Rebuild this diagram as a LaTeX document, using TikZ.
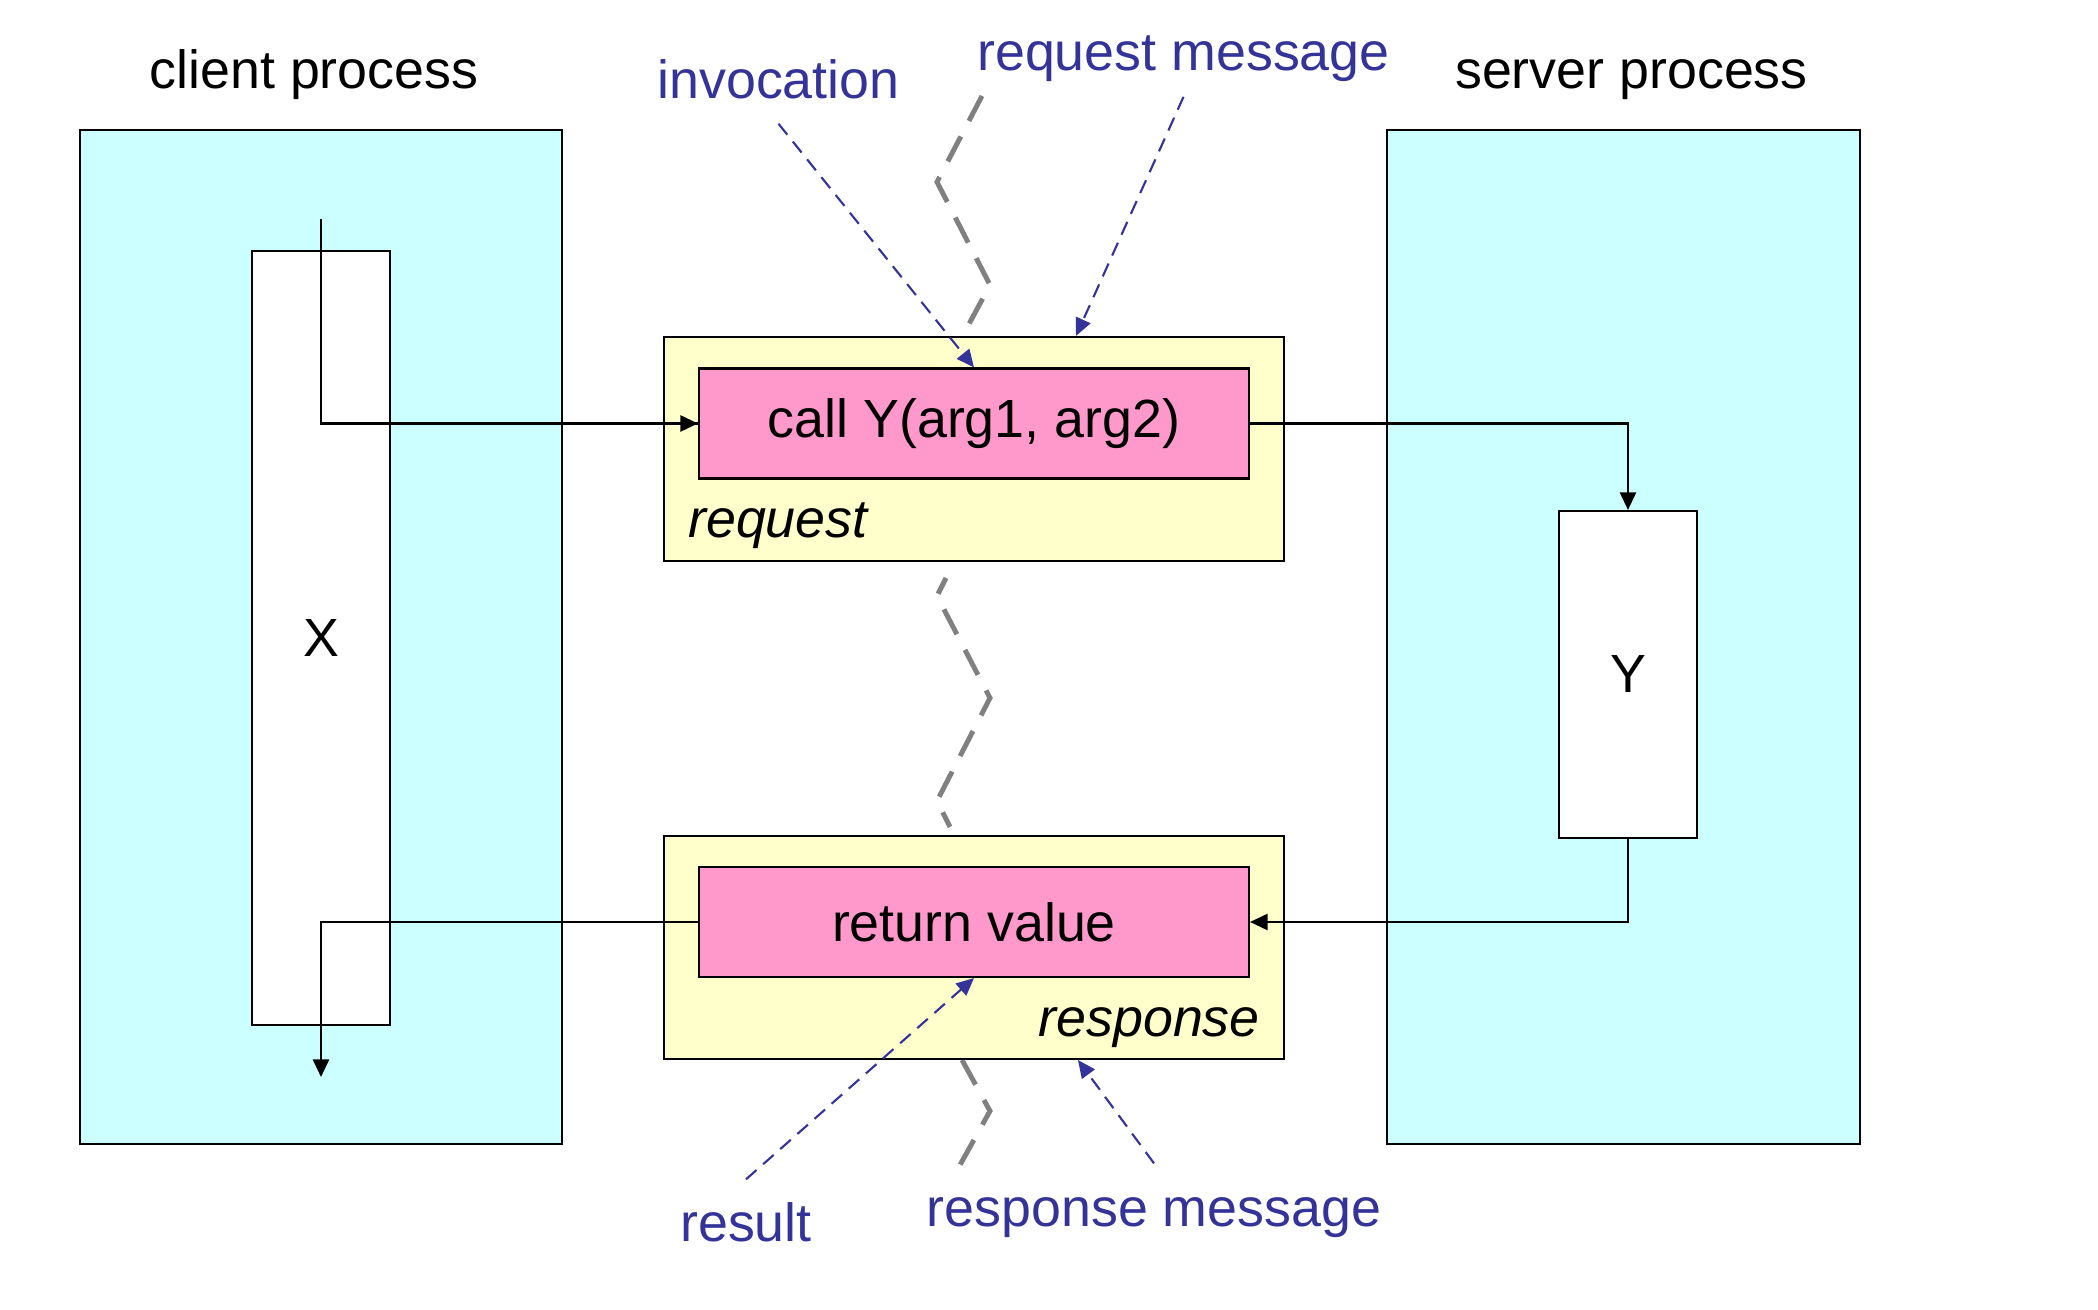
\documentclass[tikz,border=0pt]{standalone}
\usepackage{fontspec}
\setmainfont{Liberation Sans}
\usetikzlibrary{arrows.meta,positioning,calc}
\definecolor{softcyan}{RGB}{204,255,255}
\definecolor{softyellow}{RGB}{255,255,204}
\definecolor{softpink}{RGB}{255,153,204}
\definecolor{noteblue}{RGB}{51,51,153}
\definecolor{wiregray}{RGB}{128,128,128}

\begin{document}
\begin{tikzpicture}[
    x=0.1mm, y=-0.1mm,
    every node/.style={font=\fontsize{15.3}{18}\selectfont},
    proc/.style={draw, line width=0.5pt, fill=softcyan, inner sep=0pt},
    body/.style={draw, line width=0.6pt, fill=white, minimum width=13.8mm, inner sep=0pt},
    msg/.style={draw, line width=0.6pt, fill=softyellow, minimum width=62mm, minimum height=22.4mm, inner sep=0pt},
    arg/.style={draw, line width=0.6pt, fill=softpink, minimum width=55mm, minimum height=11mm, inner sep=0pt},
    title/.style={inner sep=0pt, anchor=base},
    note/.style={inner sep=0pt, anchor=base, text=noteblue},
    flow/.style={line width=0.6pt, -{Triangle[length=5pt, width=4.6pt]}},
    pointer/.style={noteblue, line width=0.6pt, dash pattern=on 4pt off 2.5pt, -{Triangle[length=5pt, width=4.5pt]}},
    wire/.style={wiregray, line width=1.4pt, dash pattern=on 8pt off 5pt}
  ]
    \useasboundingbox (0,0) rectangle (2098,1310);

    % processes
    \node[proc, minimum width=48.2mm, minimum height=101.4mm] (client) at (321,637) {};
    \node[proc, minimum width=47.3mm, minimum height=101.4mm] (server) at (1623.5,637) {};
    \node[title] (clienttitle) at (314,89) {client process};
    \node[title] (servertitle) at (1631.5,89) {server process};

    \node[body, minimum height=77.4mm] (xbody) at (321,638) {X};
    \node[body, minimum height=32.7mm] (ybody) at (1628,674.5) {Y};

    % network wire (partly hidden behind the messages)
    \draw[wire] (982,96) -- (937,182) -- (990,285) -- (962,337);
    \draw[wire, dash phase=3pt] (946,578) -- (937,596) -- (990,698) -- (937,801) -- (950,827);
    \draw[wire] (962,1060) -- (990,1111) -- (960,1165);

    % messages
    \node[msg] (reqmsg) at (974,449) {};
    \node[arg] (callbox) at (974,423.5) {call Y(arg1, arg2)};
    \node[inner sep=0pt, anchor=base west] (reqlabel) at (687.5,538) {\itshape request};

    \node[msg, minimum height=22.3mm] (respmsg) at (974,947.5) {};
    \node[arg] (retbox) at (974,922) {return value};
    \node[inner sep=0pt, anchor=base east] (resplabel) at (1260.5,1037) {\itshape response};

    % control flow
    \coordinate (xstart) at (321,219);
    \coordinate (xend) at (321,1077);
    \draw[line width=0.6pt] (xstart) |- (callbox.west);
    \draw[flow] ($(callbox.west)+(-30,0)$) -- (callbox.west);
    \draw[flow] (callbox.east) -| (ybody.north);
    \draw[flow] (ybody.south) |- (retbox.east);
    \draw[flow] (retbox.west) -| (xend);

    % annotations
    \node[note] (invocation) at (778.5,99) {invocation};
    \node[note] (reqnote) at (1183.5,71) {request message};
    \node[note] (result) at (746,1242) {result};
    \node[note] (respnote) at (1154,1227) {response message};

    \coordinate (reqin) at ($(reqmsg.north)+(102,0)$);
    \coordinate (respin) at ($(respmsg.south)+(104,0)$);
    \draw[pointer] ([yshift=-2.35mm]invocation.south) -- (callbox.north);
    \draw[pointer] ([yshift=-1.4mm]reqnote.south) -- (reqin);
    \draw[pointer] ([yshift=2.3mm]result.north) -- (retbox.south);
    \draw[pointer] ([yshift=3.4mm]respnote.north) -- (respin);
  \end{tikzpicture}
\end{document}
